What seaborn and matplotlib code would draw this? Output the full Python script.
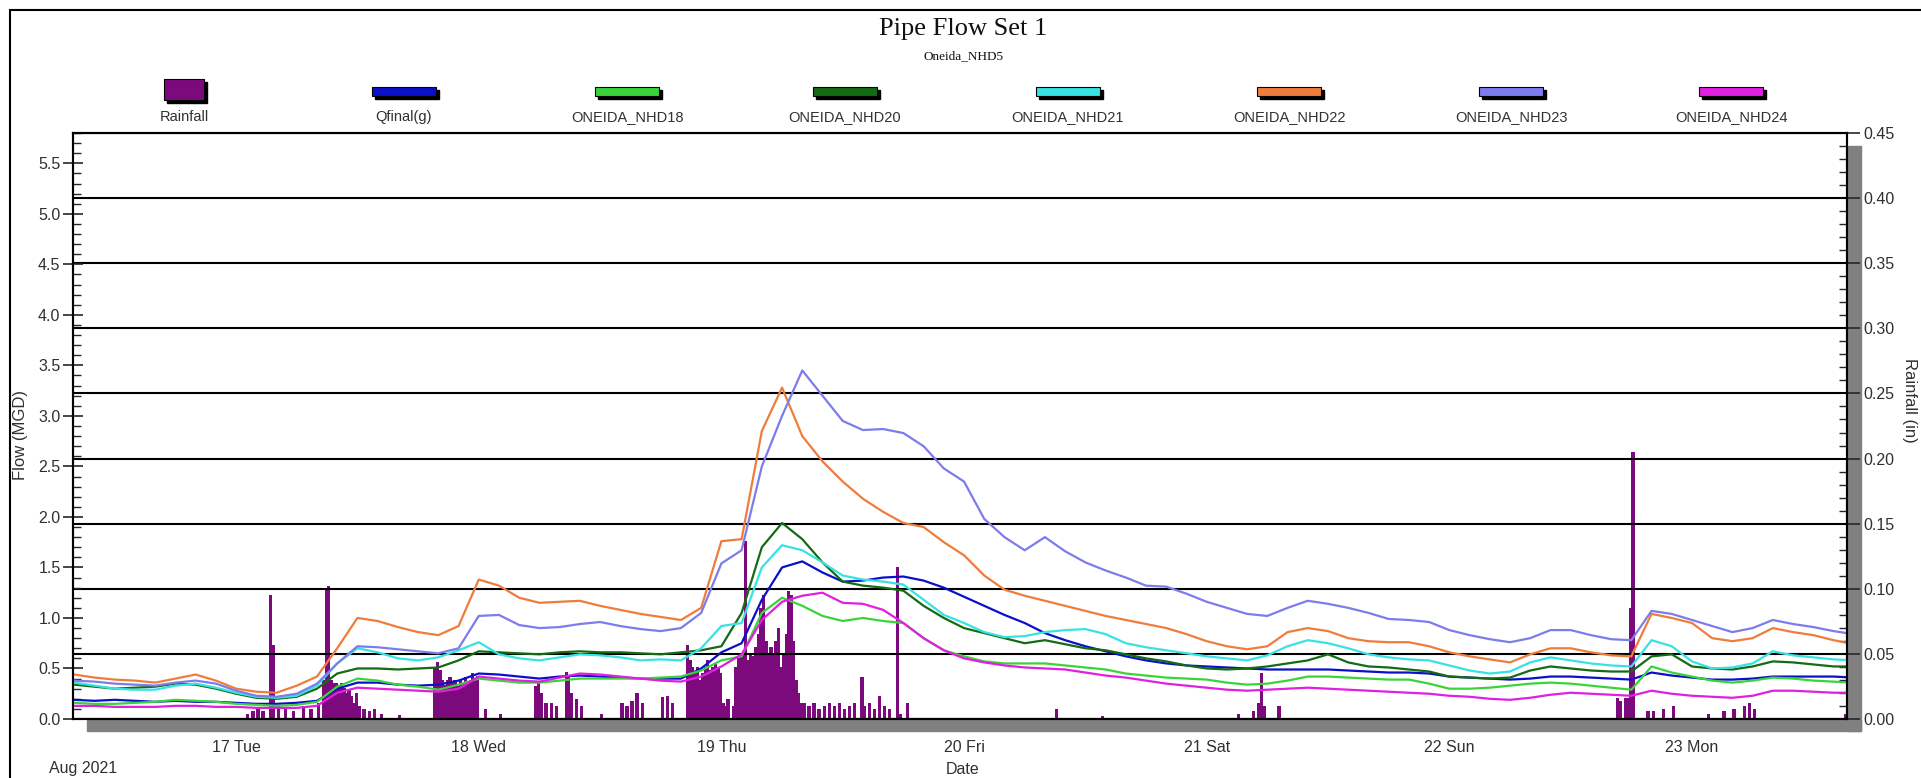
import numpy as np
import pandas as pd
import matplotlib
matplotlib.use("Agg")
import matplotlib.pyplot as plt
import matplotlib.dates as mdates
from matplotlib.patches import Rectangle
from matplotlib.ticker import MultipleLocator, FormatStrFormatter
import seaborn as sns

# ---------------- data ----------------
START = "2021-08-16 08:00"   # first sample, 2-hour steps
STEP_HOURS = 2

qfinal = [0.19, 0.18, 0.19, 0.18, 0.17, 0.18, 0.17, 0.17,
          0.16, 0.15, 0.15, 0.16, 0.18, 0.30, 0.36, 0.36, 0.34, 0.33, 0.34, 0.38,
          0.45, 0.44, 0.42, 0.40, 0.42, 0.43, 0.42, 0.41, 0.40, 0.40, 0.40, 0.50,
          0.66, 0.75, 1.18, 1.50, 1.56, 1.45, 1.36, 1.37, 1.40, 1.41, 1.37, 1.30,
          1.21, 1.12, 1.03, 0.95, 0.85, 0.78, 0.72, 0.67, 0.62, 0.58, 0.55, 0.53,
          0.52, 0.51, 0.50, 0.49, 0.49, 0.49, 0.49, 0.48, 0.47, 0.46, 0.46, 0.45,
          0.42, 0.41, 0.40, 0.39, 0.40, 0.42, 0.42, 0.41, 0.40, 0.39, 0.46, 0.43,
          0.41, 0.39, 0.39, 0.40, 0.42, 0.42, 0.42, 0.42, 0.41]

nhd18 = [0.16, 0.15, 0.15, 0.16, 0.17, 0.19, 0.18, 0.17,
         0.15, 0.14, 0.13, 0.14, 0.17, 0.32, 0.40, 0.38, 0.34, 0.32, 0.29, 0.34,
         0.40, 0.38, 0.36, 0.36, 0.38, 0.40, 0.40, 0.40, 0.40, 0.41, 0.42, 0.48,
         0.58, 0.62, 1.05, 1.20, 1.12, 1.02, 0.97, 1.00, 0.97, 0.95, 0.80, 0.68,
         0.62, 0.57, 0.55, 0.55, 0.55, 0.53, 0.51, 0.49, 0.45, 0.43, 0.41, 0.40,
         0.39, 0.36, 0.34, 0.35, 0.38, 0.42, 0.42, 0.41, 0.40, 0.39, 0.39, 0.35,
         0.30, 0.30, 0.31, 0.33, 0.35, 0.36, 0.35, 0.33, 0.31, 0.29, 0.52, 0.46,
         0.42, 0.38, 0.36, 0.38, 0.41, 0.40, 0.38, 0.37, 0.36]

nhd20 = [0.34, 0.32, 0.30, 0.31, 0.32, 0.35, 0.34, 0.30,
         0.25, 0.21, 0.20, 0.22, 0.30, 0.45, 0.50, 0.50, 0.49, 0.50, 0.51, 0.58,
         0.67, 0.66, 0.65, 0.64, 0.66, 0.67, 0.66, 0.66, 0.65, 0.64, 0.66, 0.68,
         0.72, 1.05, 1.70, 1.94, 1.78, 1.55, 1.36, 1.32, 1.30, 1.27, 1.12, 1.00,
         0.90, 0.85, 0.80, 0.75, 0.78, 0.74, 0.70, 0.68, 0.64, 0.60, 0.57, 0.53,
         0.50, 0.49, 0.50, 0.52, 0.55, 0.58, 0.64, 0.56, 0.52, 0.51, 0.49, 0.47,
         0.42, 0.41, 0.40, 0.41, 0.48, 0.52, 0.50, 0.48, 0.47, 0.47, 0.62, 0.64,
         0.52, 0.50, 0.49, 0.52, 0.57, 0.56, 0.54, 0.52, 0.52]

nhd21 = [0.36, 0.33, 0.30, 0.29, 0.29, 0.33, 0.35, 0.31,
         0.26, 0.22, 0.21, 0.23, 0.33, 0.55, 0.70, 0.66, 0.60, 0.58, 0.61, 0.68,
         0.76, 0.64, 0.60, 0.58, 0.61, 0.64, 0.63, 0.61, 0.58, 0.59, 0.58, 0.70,
         0.92, 0.95, 1.50, 1.72, 1.67, 1.55, 1.42, 1.38, 1.36, 1.33, 1.18, 1.03,
         0.95, 0.86, 0.81, 0.82, 0.86, 0.88, 0.89, 0.84, 0.75, 0.71, 0.68, 0.65,
         0.62, 0.60, 0.58, 0.63, 0.72, 0.78, 0.75, 0.70, 0.64, 0.61, 0.59, 0.58,
         0.53, 0.48, 0.45, 0.47, 0.56, 0.61, 0.58, 0.55, 0.53, 0.52, 0.78, 0.72,
         0.57, 0.50, 0.51, 0.55, 0.67, 0.63, 0.61, 0.59, 0.58]

nhd22 = [0.44, 0.41, 0.39, 0.38, 0.36, 0.40, 0.44, 0.38,
         0.30, 0.27, 0.26, 0.33, 0.42, 0.70, 1.00, 0.97, 0.91, 0.86, 0.83, 0.92,
         1.38, 1.32, 1.20, 1.15, 1.16, 1.17, 1.12, 1.08, 1.04, 1.01, 0.98, 1.10,
         1.76, 1.78, 2.85, 3.28, 2.80, 2.55, 2.35, 2.18, 2.05, 1.94, 1.90, 1.75,
         1.62, 1.42, 1.28, 1.22, 1.17, 1.12, 1.07, 1.02, 0.98, 0.94, 0.90, 0.84,
         0.77, 0.72, 0.69, 0.72, 0.86, 0.90, 0.87, 0.80, 0.77, 0.76, 0.76, 0.72,
         0.66, 0.62, 0.59, 0.56, 0.64, 0.70, 0.70, 0.66, 0.63, 0.62, 1.04, 1.00,
         0.95, 0.80, 0.77, 0.80, 0.90, 0.86, 0.83, 0.78, 0.74]

nhd23 = [0.38, 0.37, 0.35, 0.34, 0.33, 0.36, 0.38, 0.35,
         0.28, 0.23, 0.22, 0.25, 0.35, 0.55, 0.72, 0.71, 0.69, 0.67, 0.65, 0.70,
         1.02, 1.03, 0.93, 0.90, 0.91, 0.94, 0.96, 0.92, 0.89, 0.87, 0.90, 1.05,
         1.54, 1.67, 2.50, 3.00, 3.45, 3.20, 2.95, 2.86, 2.87, 2.83, 2.70, 2.48,
         2.35, 1.98, 1.80, 1.67, 1.80, 1.66, 1.55, 1.47, 1.40, 1.32, 1.31, 1.24,
         1.16, 1.10, 1.04, 1.02, 1.10, 1.17, 1.14, 1.10, 1.05, 0.99, 0.98, 0.96,
         0.88, 0.83, 0.79, 0.76, 0.80, 0.88, 0.88, 0.83, 0.79, 0.78, 1.07, 1.04,
         0.98, 0.92, 0.86, 0.90, 0.98, 0.94, 0.91, 0.87, 0.84]

nhd24 = [0.13, 0.13, 0.12, 0.12, 0.12, 0.13, 0.13, 0.12,
         0.12, 0.11, 0.11, 0.11, 0.13, 0.26, 0.31, 0.30, 0.29, 0.28, 0.27, 0.30,
         0.42, 0.40, 0.38, 0.37, 0.41, 0.45, 0.44, 0.42, 0.40, 0.38, 0.37, 0.42,
         0.52, 0.64, 0.98, 1.16, 1.22, 1.25, 1.15, 1.14, 1.08, 0.95, 0.80, 0.68,
         0.60, 0.56, 0.53, 0.51, 0.50, 0.49, 0.46, 0.43, 0.41, 0.38, 0.35, 0.33,
         0.31, 0.29, 0.28, 0.29, 0.30, 0.31, 0.30, 0.29, 0.28, 0.27, 0.26, 0.25,
         0.23, 0.22, 0.20, 0.19, 0.21, 0.24, 0.26, 0.25, 0.24, 0.23, 0.28, 0.25,
         0.23, 0.22, 0.21, 0.23, 0.28, 0.28, 0.27, 0.26, 0.26]

# rainfall: hours after 2021-08-17 00:00, inches per 15-minute bar
RAIN_ORIGIN = "2021-08-17 00:00"
rain_hours = [1.0, 1.5, 2.0, 2.5, 3.25, 3.5, 4.0, 4.75, 5.5, 6.5, 7.25, 8.0,
              8.5, 8.75, 9.0, 9.25, 9.5, 9.75, 10.0, 10.25, 10.5, 10.75, 11.0, 11.25,
              11.5, 11.75, 12.0, 12.5, 13.0, 13.5, 14.25, 16.0,
              19.5, 19.75, 20.0, 20.25, 20.5, 20.75, 21.0, 21.25, 21.5, 21.75, 22.0,
              22.25, 22.5, 22.75, 23.0, 23.25, 23.5, 23.75,
              24.5, 26.0, 29.5, 29.75, 30.0, 30.5, 31.0, 31.5, 32.5, 32.75, 33.0, 33.5,
              34.0, 36.0, 38.0, 38.5, 39.0, 39.5, 40.0, 42.0, 42.5, 43.0,
              44.5, 44.75, 45.0, 45.25, 45.5, 45.75, 46.0, 46.25, 46.5, 46.75, 47.0,
              47.25, 47.5, 47.75,
              48.0, 48.25, 48.5, 49.0, 49.25, 49.5, 49.75, 50.0, 50.25, 50.5, 50.75,
              51.0, 51.25, 51.5, 51.75, 52.0, 52.25, 52.5, 52.75, 53.0, 53.25, 53.5,
              53.75, 54.0, 54.25, 54.5, 54.75, 55.0, 55.25, 55.5, 55.75,
              56.0, 56.5, 57.0, 57.5, 58.0, 58.5, 59.0, 59.5, 60.0, 60.5, 61.0, 61.75,
              62.0, 62.5, 63.0, 63.5, 64.0, 64.5, 65.25, 65.5, 66.25,
              81.0, 85.5, 99.0, 100.5, 101.0, 101.25, 101.5, 103.0,
              136.5, 136.75, 137.25, 137.5, 137.75, 138.0, 139.5, 140.0, 141.0, 142.0,
              145.5, 147.0, 148.0, 149.0, 149.5, 150.0, 159.0]
rain_in = [0.004, 0.006, 0.008, 0.006, 0.095, 0.057, 0.010, 0.008, 0.006, 0.010, 0.008, 0.012,
           0.030, 0.100, 0.102, 0.030, 0.028, 0.028, 0.026, 0.028, 0.024, 0.020, 0.022, 0.018,
           0.012, 0.020, 0.010, 0.008, 0.006, 0.008, 0.004, 0.003,
           0.040, 0.044, 0.038, 0.030, 0.026, 0.030, 0.032, 0.028, 0.030, 0.025, 0.030,
           0.027, 0.032, 0.028, 0.030, 0.035, 0.030, 0.033,
           0.008, 0.004, 0.025, 0.028, 0.020, 0.012, 0.012, 0.010, 0.036, 0.034, 0.020, 0.015,
           0.010, 0.004, 0.012, 0.010, 0.014, 0.020, 0.012, 0.017, 0.018, 0.012,
           0.057, 0.045, 0.040, 0.035, 0.040, 0.030, 0.035, 0.040, 0.045, 0.038, 0.040,
           0.042, 0.040, 0.035,
           0.012, 0.010, 0.015, 0.010, 0.040, 0.048, 0.050, 0.050, 0.137, 0.045, 0.050,
           0.048, 0.055, 0.065, 0.085, 0.095, 0.060, 0.050, 0.055, 0.050, 0.060, 0.070,
           0.040, 0.050, 0.065, 0.098, 0.095, 0.060, 0.030, 0.020, 0.012,
           0.012, 0.010, 0.012, 0.008, 0.010, 0.012, 0.010, 0.012, 0.008, 0.010, 0.012, 0.032,
           0.010, 0.012, 0.008, 0.018, 0.010, 0.008, 0.117, 0.004, 0.012,
           0.008, 0.002, 0.004, 0.006, 0.012, 0.035, 0.010, 0.010,
           0.016, 0.014, 0.016, 0.016, 0.085, 0.205, 0.006, 0.006, 0.008, 0.010,
           0.004, 0.006, 0.008, 0.010, 0.012, 0.008, 0.004]

series_names = ["Qfinal(g)", "ONEIDA_NHD18", "ONEIDA_NHD20", "ONEIDA_NHD21",
                "ONEIDA_NHD22", "ONEIDA_NHD23", "ONEIDA_NHD24"]
series_values = [qfinal, nhd18, nhd20, nhd21, nhd22, nhd23, nhd24]
series_colors = ["#0a10c8", "#3ad43a", "#136b13", "#38e2e2",
                 "#f07c3c", "#7c7cec", "#e020e0"]
rain_color = "#7d0a7d"
legend_labels = ["Rainfall"] + series_names
legend_colors = [rain_color] + series_colors

# ---------------- build frames ----------------
times = pd.date_range(START, periods=len(qfinal), freq=f"{STEP_HOURS}h")
df = pd.concat([pd.DataFrame({"time": times, "flow": v, "series": n})
                for n, v in zip(series_names, series_values)], ignore_index=True)
rain_t = pd.Timestamp(RAIN_ORIGIN) + pd.to_timedelta(rain_hours, unit="h")

# ---------------- figure ----------------
sns.set_style("white")
plt.rcParams["font.family"] = ["Liberation Sans", "DejaVu Sans"]

W, H = 1921, 778
fig = plt.figure(figsize=(W / 100, H / 100), dpi=100)
fig.patch.set_facecolor("white")


def fx(px):
    return px / W


def fy(py):
    return 1 - py / H


L, R, T, B = 73, 1847, 133, 719
ax = fig.add_axes([fx(L), fy(B), (R - L) / W, (B - T) / H])
ax2 = ax.twinx()
ax.set_zorder(3)
ax2.set_zorder(2)
ax.patch.set_visible(False)
ax2.patch.set_facecolor("white")

# rainfall bars (right axis)
ax2.bar(rain_t, rain_in, width=0.32 / 24, align="edge", color=rain_color,
        linewidth=0)
ax2.set_ylim(0, 0.45)
ax2.yaxis.set_major_locator(MultipleLocator(0.05))
ax2.yaxis.set_minor_locator(MultipleLocator(0.01))
ax2.yaxis.set_major_formatter(FormatStrFormatter("%.2f"))
ax2.set_axisbelow(False)
ax2.grid(True, which="major", axis="both", color="black", linewidth=1.5)
ax2.tick_params(axis="y", which="major", direction="out", length=9, width=1.2,
                labelsize=11.5, labelcolor="#303030", pad=3)
ax2.tick_params(axis="y", which="minor", direction="in", length=6, width=1.0)

# flow lines (left axis)
sns.lineplot(data=df, x="time", y="flow", hue="series", hue_order=series_names,
             palette=dict(zip(series_names, series_colors)), linewidth=1.6,
             legend=False, ax=ax, estimator=None)
ax.set_ylim(0, 5.80)
ax.yaxis.set_major_locator(MultipleLocator(0.5))
ax.yaxis.set_minor_locator(MultipleLocator(0.1))
ax.yaxis.set_major_formatter(FormatStrFormatter("%.1f"))
ax.tick_params(axis="y", which="major", direction="inout", length=14, width=1.2,
               labelsize=11.5, labelcolor="#303030", pad=2)
ax.tick_params(axis="y", which="minor", direction="in", length=6, width=1.0)
ax.set_xlim(pd.Timestamp("2021-08-16 07:52"), pd.Timestamp("2021-08-23 15:20"))
ax.xaxis.set_major_locator(mdates.DayLocator())
ax.xaxis.set_major_formatter(mdates.DateFormatter("%d %a"))
ax.tick_params(axis="x", which="both", length=0, labelsize=11.5,
               labelcolor="#303030", pad=15)
ax.set_xlabel("")
ax.set_ylabel("")
ax2.set_ylabel("")

for a in (ax, ax2):
    for s in a.spines.values():
        s.set_color("black")
        s.set_linewidth(1.5)

# 3-D style shadow of the plot frame
shadow = "#808080"
fig.add_artist(Rectangle((fx(L + 14), fy(B + 12)), (R - L) / W, 11 / H,
                         transform=fig.transFigure, color=shadow, zorder=0.5))
fig.add_artist(Rectangle((fx(R + 1), fy(B + 12)), 13 / W, (B - T - 1) / H,
                         transform=fig.transFigure, color=shadow, zorder=0.5))

# outer border (left + top visible)
fig.add_artist(Rectangle((fx(10), -0.1), 1.2, fy(10) + 0.1,
                         transform=fig.transFigure, fill=False,
                         edgecolor="black", linewidth=1.5, zorder=10))

# titles
fig.text(fx(963), fy(29), "Pipe Flow Set 1", ha="center", va="center",
         family=["Liberation Serif", "DejaVu Serif"], fontsize=19, color="#111")
fig.text(fx(963), fy(56), "Oneida_NHD5", ha="center", va="center",
         family=["Liberation Serif", "DejaVu Serif"], fontsize=9.5, color="#111")

# axis titles
fig.text(fx(21), fy(435), "Flow (MGD)", rotation=90, ha="center", va="center",
         fontsize=12, color="#303030")
fig.text(fx(1909), fy(400), "Rainfall (in)", rotation=270, ha="center",
         va="center", fontsize=12, color="#303030")
fig.text(fx(963), fy(769), "Date", ha="center", va="center", fontsize=11.5,
         color="#303030")
fig.text(fx(49), fy(769), "Aug 2021", ha="left", va="center", fontsize=11.5,
         color="#303030")

# legend (custom, like the source application)
centers = [184, 404, 627, 845, 1068, 1289, 1511, 1731]
for i, (lab, col, cx) in enumerate(zip(legend_labels, legend_colors, centers)):
    if i == 0:
        w, h, cy = 40, 21, 89
    else:
        w, h, cy = 64, 9, 91
    x0, y0 = cx - w / 2, cy - h / 2
    fig.add_artist(Rectangle((fx(x0 + 3), fy(y0 + h + 3)), w / W, h / H,
                             transform=fig.transFigure, color="black", zorder=5))
    fig.add_artist(Rectangle((fx(x0), fy(y0 + h)), w / W, h / H,
                             transform=fig.transFigure, facecolor=col,
                             edgecolor="black", linewidth=0.8, zorder=6))
    fig.text(fx(cx), fy(117), lab, ha="center", va="center", fontsize=10.5,
             color="#303030")

fig.savefig("out.png", dpi=100)
